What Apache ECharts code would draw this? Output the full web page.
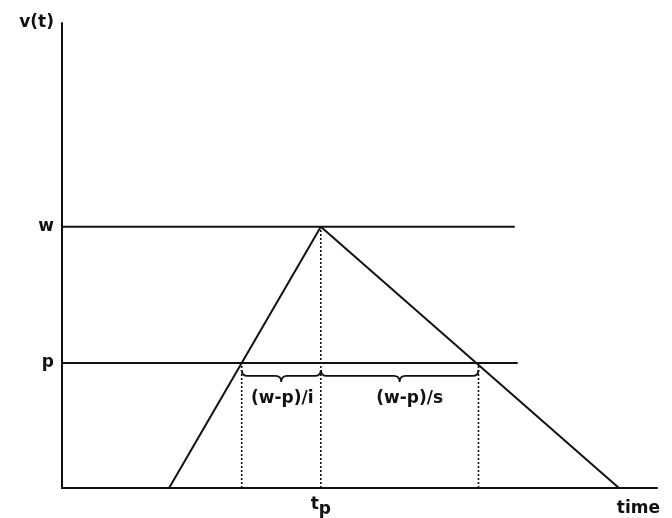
<!DOCTYPE html>
<html>
<head>
<meta charset="utf-8">
<script src="https://cdn.jsdelivr.net/npm/echarts@6/dist/echarts.min.js"></script>
<style>html,body{margin:0;padding:0;background:#fff}#c{width:672px;height:518px}</style>
</head>
<body>
<div id="c"></div>
<script>
// ---- data ----
const levelNames = ['p', 'w'];
const levelValues = [2.69, 5.62];
const levelEnds = [7.66, 7.61];
const triangleT = [1.8, 4.35, 9.36];
const triangleV = [0, 5.62, 0];
const dropT = [3.02, 4.35, 7.0];
const dropTop = [2.69, 5.62, 2.69];
const braceFrom = [3.02, 4.35];
const braceTo = [4.35, 7.0];
const braceLabels = ['(w-p)/i', '(w-p)/s'];
const xTickValues = [4.35];
const xTickNames = [['t', 'p']];
const yAxisName = 'v(t)';
const xAxisName = 'time';

const FONT = 'DejaVu Sans';
const INK = '#111';
const FS = 17;

const series = [];
levelValues.forEach((v, i) => {
  series.push({
    type: 'line', silent: true, symbol: 'none',
    lineStyle: { color: INK, width: 2 },
    data: [[0, v], [levelEnds[i], v]]
  });
});
series.push({
  type: 'line', silent: true, symbol: 'none',
  lineStyle: { color: INK, width: 2 },
  data: triangleT.map((t, i) => [t, triangleV[i]])
});
dropT.forEach((t, i) => {
  series.push({
    type: 'line', silent: true, symbol: 'none',
    lineStyle: { color: INK, width: 1.6, type: [2, 2] },
    data: [[t, 0], [t, dropTop[i]]]
  });
});
series.push({
  type: 'custom', silent: true,
  data: braceFrom.map((f, i) => [f, braceTo[i], levelValues[0], i]),
  renderItem: function (params, api) {
    const a = api.coord([api.value(0), api.value(2)]);
    const b = api.coord([api.value(1), api.value(2)]);
    const x1 = a[0], x2 = b[0], y0 = a[1];
    const xm = (x1 + x2) / 2;
    const d = 'M' + x1 + ',' + (y0 + 7) +
      ' Q' + x1 + ',' + (y0 + 13) + ' ' + (x1 + 6) + ',' + (y0 + 13) +
      ' L' + (xm - 6) + ',' + (y0 + 13) +
      ' Q' + xm + ',' + (y0 + 13) + ' ' + xm + ',' + (y0 + 19) +
      ' Q' + xm + ',' + (y0 + 13) + ' ' + (xm + 6) + ',' + (y0 + 13) +
      ' L' + (x2 - 6) + ',' + (y0 + 13) +
      ' Q' + x2 + ',' + (y0 + 13) + ' ' + x2 + ',' + (y0 + 7);
    return {
      type: 'group',
      children: [
        { type: 'path', shape: { pathData: d }, style: { fill: 'none', stroke: INK, lineWidth: 1.8 } },
        { type: 'text', style: { text: braceLabels[api.value(3)], x: xm + (api.value(3) === 1 ? 10 : 1), y: y0 + 36,
          align: 'center', verticalAlign: 'middle', fill: INK, font: 'bold ' + FS + 'px "' + FONT + '"' } }
      ]
    };
  }
});

const chart = echarts.init(document.getElementById('c'), null, { renderer: 'canvas' });
chart.setOption({
  animation: false,
  backgroundColor: '#fff',
  grid: { left: 62, top: 23, width: 595, height: 468 },
  xAxis: {
    type: 'value', min: 0, max: 10,
    axisLine: { lineStyle: { color: INK, width: 2 } },
    axisTick: { show: false },
    splitLine: { show: false },
    axisLabel: {
      customValues: xTickValues,
      margin: 8,
      formatter: function (v) {
        const k = xTickValues.indexOf(v);
        const n = xTickNames[k >= 0 ? k : 0];
        return '{t|' + n[0] + '}{s|' + n[1] + '}';
      },
      rich: {
        t: { fontFamily: FONT, fontWeight: 'bold', fontSize: FS, color: INK, verticalAlign: 'top', lineHeight: 22 },
        s: { fontFamily: FONT, fontWeight: 'bold', fontSize: FS, color: INK, verticalAlign: 'bottom', lineHeight: 22 }
      }
    },
    name: xAxisName, nameLocation: 'end', nameGap: 3,
    nameTextStyle: { fontFamily: FONT, fontWeight: 'bold', fontSize: FS, color: INK,
      align: 'right', verticalAlign: 'top', padding: [12, 0, 0, 0] }
  },
  yAxis: {
    type: 'value', min: 0, max: 10,
    axisLine: { lineStyle: { color: INK, width: 2 } },
    axisTick: { show: false },
    splitLine: { show: false },
    axisLabel: {
      customValues: levelValues,
      margin: 8,
      fontFamily: FONT, fontWeight: 'bold', fontSize: FS, color: INK,
      formatter: function (v) {
        const k = levelValues.indexOf(v);
        return k >= 0 ? levelNames[k] : '';
      }
    },
    name: yAxisName, nameLocation: 'end', nameGap: 0,
    nameTextStyle: { fontFamily: FONT, fontWeight: 'bold', fontSize: FS, color: INK,
      align: 'right', verticalAlign: 'middle', padding: [0, 8, 0, 0] }
  },
  series: series
});
</script>
</body>
</html>
